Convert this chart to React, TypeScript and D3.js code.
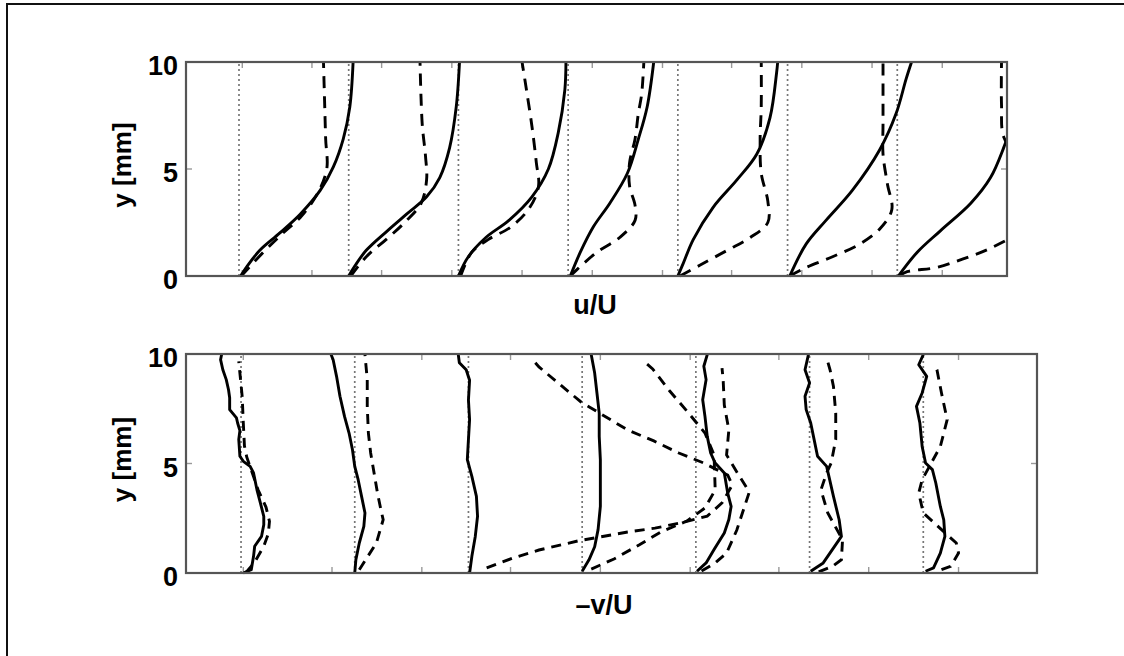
import React from 'react';
import * as d3 from 'd3';

type Pt = [number, number];

// profile stations (offset of each profile on the x axis)
const STATIONS = [0, 1, 2, 3, 4, 5, 6];
const Y_TICKS = [0, 5, 10];
const Y_TICK_LABELS = ['0', '5', '10'];
// unlabeled x ticks, in axis units
const X_TICKS_TOP = [0.03, 0.665, 1.3, 1.94, 2.58, 3.22, 3.86, 4.49, 5.13, 5.77, 6.41];
const X_TICKS_BOTTOM = [0.02, 0.8, 1.59, 2.37, 3.16, 3.95, 4.73, 5.52, 6.31];

// top panel: u/U profiles, [u, y]
const U_SOLID: Pt[][] = [
  [[0.015, 0], [0.08, 0.5], [0.19, 1.2], [0.37, 2.0], [0.56, 2.9], [0.74, 4.0], [0.86, 5.1], [0.95, 6.4], [1.01, 7.9], [1.04, 10]],
  [[0, 0], [0.06, 0.5], [0.16, 1.2], [0.35, 2.1], [0.53, 2.9], [0.71, 3.7], [0.83, 4.6], [0.92, 6.0], [0.98, 7.9], [1.01, 10]],
  [[0, 0], [0.09, 0.9], [0.25, 1.8], [0.46, 2.6], [0.67, 3.7], [0.82, 5.0], [0.91, 6.7], [0.97, 8.7], [0.98, 10]],
  [[0.02, 0], [0.11, 1.1], [0.23, 2.3], [0.38, 3.4], [0.54, 4.8], [0.64, 6.4], [0.72, 7.9], [0.78, 10]],
  [[0, 0], [0.05, 0.6], [0.14, 1.7], [0.32, 3.2], [0.54, 4.5], [0.72, 5.7], [0.84, 7.4], [0.9, 9.5], [0.91, 10]],
  [[0.02, 0], [0.17, 1.5], [0.35, 2.6], [0.59, 4.0], [0.84, 5.9], [0.99, 7.6], [1.08, 9.2], [1.13, 10]],
  [[0.01, 0], [0.18, 1.1], [0.39, 2.1], [0.67, 3.4], [0.85, 4.6], [0.97, 6.0], [1.07, 7.5], [1.13, 9], [1.15, 10]],
];

const U_DASHED: Pt[][] = [
  [[0.02, 0], [0.22, 1.1], [0.4, 2.0], [0.57, 2.8], [0.72, 3.9], [0.8, 5.0], [0.79, 6.4], [0.78, 8.2], [0.77, 10]],
  [[0.02, 0], [0.16, 0.9], [0.34, 1.7], [0.51, 2.5], [0.66, 3.4], [0.71, 4.5], [0.7, 5.6], [0.67, 7.1], [0.65, 10]],
  [[0.02, 0], [0.12, 1.1], [0.27, 1.7], [0.48, 2.3], [0.65, 3.2], [0.73, 4.2], [0.71, 5.3], [0.67, 7.0], [0.62, 8.7], [0.58, 10]],
  [[0.02, 0], [0.08, 0.3], [0.26, 1.1], [0.47, 1.8], [0.61, 2.6], [0.61, 3.3], [0.56, 4.2], [0.56, 5.3], [0.61, 6.4], [0.64, 7.6], [0.67, 8.5], [0.69, 10]],
  [[0.02, 0], [0.2, 0.5], [0.45, 1.2], [0.66, 1.8], [0.82, 2.5], [0.82, 3.5], [0.76, 4.8], [0.75, 6.4], [0.76, 7.9], [0.76, 10]],
  [[0.02, 0], [0.17, 0.4], [0.41, 0.9], [0.66, 1.5], [0.84, 2.2], [0.95, 3.1], [0.91, 4.3], [0.87, 5.7], [0.87, 7.1], [0.87, 10]],
  [[0.02, 0], [0.09, 0.2], [0.36, 0.4], [0.6, 0.8], [0.85, 1.3], [1.15, 2.2], [1.35, 3.5], [1.3, 4.8], [1.1, 5.6], [0.97, 6.5], [0.95, 8], [0.95, 10]],
];

// bottom panel: -v/U profiles, [v, y]
const V_SOLID: Pt[][] = [
  [[0.02, 0], [0.09, 0.15], [0.11, 0.76], [0.12, 1.22], [0.18, 1.67], [0.2, 2.2], [0.2, 2.59], [0.17, 3.2], [0.14, 3.8], [0.11, 4.57], [0.08, 4.87], [0.02, 5.1], [-0.01, 5.33], [-0.02, 6.1], [-0.01, 6.5], [-0.03, 6.85], [-0.04, 7.08], [-0.1, 7.46], [-0.1, 8.0], [-0.11, 8.37], [-0.13, 8.83], [-0.16, 9.28], [-0.18, 9.74], [-0.17, 10]],
  [[0, 0], [0.01, 0.61], [0.04, 1.37], [0.08, 2.13], [0.09, 2.74], [0.06, 3.5], [0.03, 4.26], [0, 4.87], [-0.02, 5.63], [-0.05, 6.39], [-0.09, 7.15], [-0.13, 8.07], [-0.16, 8.98], [-0.19, 9.74], [-0.21, 10]],
  [[0.01, 0], [0.03, 0.76], [0.06, 1.67], [0.08, 2.59], [0.07, 3.5], [0.03, 4.41], [-0.01, 5.18], [0, 6.1], [0.01, 7.0], [0, 7.9], [0.01, 8.8], [-0.02, 9.28], [-0.08, 9.6], [-0.09, 10]],
  [[0, 0.08], [0.06, 0.6], [0.11, 1.2], [0.14, 1.98], [0.16, 3.04], [0.16, 4.11], [0.16, 5.18], [0.15, 6.24], [0.15, 7.3], [0.13, 8.22], [0.11, 9.13], [0.08, 9.97]],
  [[0.01, 0.08], [0.09, 0.46], [0.16, 1.07], [0.25, 1.83], [0.29, 2.44], [0.31, 3.04], [0.28, 3.65], [0.25, 4.57], [0.17, 5.02], [0.13, 5.48], [0.1, 6.24], [0.08, 7.15], [0.06, 7.91], [0.09, 8.83], [0.07, 9.44], [0.1, 9.97]],
  [[0.01, 0.08], [0.12, 0.46], [0.2, 1.07], [0.28, 1.67], [0.26, 2.43], [0.21, 3.5], [0.17, 4.41], [0.15, 4.87], [0.07, 5.33], [0.04, 6.09], [0.01, 6.85], [-0.03, 7.46], [-0.04, 8.07], [0, 8.68], [-0.04, 9.28], [-0.01, 9.97]],
  [[0.02, 0.08], [0.09, 0.23], [0.15, 0.91], [0.19, 1.67], [0.18, 2.43], [0.15, 3.04], [0.11, 4.11], [0.08, 4.72], [0.02, 5.02], [-0.01, 5.78], [-0.03, 6.85], [-0.06, 7.61], [-0.01, 8.22], [0.03, 8.98], [-0.04, 9.51], [0, 9.97]],
];

const V_DASHED: Pt[][] = [
  [[0.04, 0], [0.12, 0.5], [0.2, 1.22], [0.24, 1.8], [0.25, 2.36], [0.22, 3.0], [0.15, 3.8], [0.11, 4.4], [0.05, 5.3], [0.03, 5.8], [0.02, 6.85], [0.01, 8.07], [-0.02, 9.66]],
  [[0.04, 0.15], [0.19, 1.37], [0.25, 2.43], [0.23, 2.89], [0.2, 3.65], [0.17, 4.57], [0.14, 5.48], [0.12, 6.39], [0.11, 7.61], [0.11, 8.83], [0.09, 9.97]],
  [[0.16, 0.23], [0.39, 0.68], [0.62, 1.05], [0.96, 1.46], [1.4, 1.87], [1.64, 2.05], [1.86, 2.28], [2.1, 2.6], [2.23, 3.2], [2.32, 4.02], [2.28, 4.47], [2.07, 5.02], [1.85, 5.48], [1.63, 6.03], [1.4, 6.53], [0.99, 7.81], [0.82, 8.54], [0.62, 9.41], [0.56, 9.77]],
  [[0.08, 0.18], [0.28, 0.64], [0.5, 1.28], [0.69, 1.87], [0.92, 2.37], [1.08, 2.97], [1.17, 3.79], [1.16, 5.39], [1.08, 6.39], [0.92, 7.4], [0.77, 8.31], [0.62, 9.32], [0.57, 9.54]],
  [[0.05, 0.09], [0.17, 0.46], [0.27, 0.91], [0.36, 1.96], [0.47, 3.7], [0.36, 4.61], [0.27, 5.39], [0.29, 6.53], [0.25, 7.67], [0.24, 8.81], [0.23, 9.36]],
  [[0.08, 0.05], [0.2, 0.3], [0.28, 0.61], [0.29, 1.52], [0.16, 2.74], [0.1, 3.8], [0.15, 4.57], [0.19, 5.02], [0.23, 6.09], [0.23, 7.3], [0.21, 8.52], [0.18, 9.28], [0.15, 9.82]],
  [[0.16, 0.15], [0.24, 0.3], [0.31, 0.91], [0.29, 1.37], [0, 2.74], [-0.04, 3.65], [-0.01, 4.26], [0.15, 5.78], [0.21, 7.0], [0.16, 8.22], [0.12, 9.28], [0.1, 9.55]],
];

const FONT = '"Liberation Sans", Arial, Helvetica, sans-serif';

interface PanelProps {
  id: string;
  box: { left: number; right: number; top: number; bottom: number };
  xDomain: [number, number];
  xTicks: number[];
  solid: Pt[][];
  dashed: Pt[][];
  smooth: boolean;
  dash: string;
  label: string;
  labelX: number;
  labelY: number;
}

const Panel = ({ id, box, xDomain, xTicks, solid, dashed, smooth, dash, label, labelX, labelY }: PanelProps) => {
  const x = d3.scaleLinear().domain(xDomain).range([box.left, box.right]);
  const y = d3.scaleLinear().domain([0, 10]).range([box.bottom, box.top]);
  const tickLen = 6;

  const mkLine = (off: number) =>
    d3.line<Pt>()
      .x(d => x(off + d[0]))
      .y(d => y(d[1]))
      .curve(smooth ? d3.curveCatmullRom.alpha(0.5) : d3.curveLinear);

  return (
    <g>
      <defs>
        <clipPath id={`clip-${id}`}>
          <rect x={box.left} y={box.top - 2} width={box.right - box.left} height={box.bottom - box.top + 4} />
        </clipPath>
      </defs>

      {/* zero reference of each profile */}
      {STATIONS.map(s => (
        <line key={`ref${s}`} x1={x(s)} x2={x(s)} y1={y(0)} y2={y(10)}
          stroke="#777" strokeWidth={1.7} strokeDasharray="2,3" />
      ))}

      {/* ticks */}
      {xTicks.map((t, i) => (
        <g key={`xt${i}`} stroke="#999" strokeWidth={1.4}>
          <line x1={x(t)} x2={x(t)} y1={box.bottom} y2={box.bottom - tickLen} />
          <line x1={x(t)} x2={x(t)} y1={box.top} y2={box.top + tickLen} />
        </g>
      ))}
      {Y_TICKS.map((t, i) => (
        <g key={`yt${i}`} stroke="#999" strokeWidth={1.4}>
          <line x1={box.left} x2={box.left + tickLen} y1={y(t)} y2={y(t)} />
          <line x1={box.right} x2={box.right - tickLen} y1={y(t)} y2={y(t)} />
        </g>
      ))}

      <g clipPath={`url(#clip-${id})`} fill="none" stroke="#000" strokeWidth={2.9}>
        {solid.map((pts, i) => (
          <path key={`s${i}`} d={mkLine(STATIONS[i])(pts) || ''} strokeLinejoin="round" />
        ))}
        {dashed.map((pts, i) => (
          <path key={`d${i}`} d={mkLine(STATIONS[i])(pts) || ''} strokeDasharray={dash} />
        ))}
      </g>

      <rect x={box.left} y={box.top} width={box.right - box.left} height={box.bottom - box.top}
        fill="none" stroke="#555" strokeWidth={2.2} />

      {Y_TICK_LABELS.map((lab, i) => (
        <text key={`yl${i}`} x={box.left - 8} y={y(Y_TICKS[i]) + 4} textAnchor="end" dominantBaseline="central"
          fontFamily={FONT} fontWeight="bold" fontSize={27} fill="#000">
          {lab}
        </text>
      ))}

      <text transform={`translate(122,${(box.top + box.bottom) / 2 - 4}) rotate(-90)`}
        textAnchor="middle" dominantBaseline="central"
        fontFamily={FONT} fontWeight="bold" fontSize={26} fill="#000">
        y [mm]
      </text>

      <text x={labelX} y={labelY} textAnchor="middle"
        fontFamily={FONT} fontWeight="bold" fontSize={27} fill="#000">
        {label}
      </text>
    </g>
  );
};

export default function App() {
  return (
    <svg width={1124} height={656} style={{ position: 'absolute', left: 0, top: 0, background: '#fff' }}>
      <rect x={0} y={0} width={1124} height={656} fill="#fff" />
      <rect x={7} y={4} width={1200} height={800} fill="none" stroke="#111" strokeWidth={2} />
      <Panel id="top" box={{ left: 186, right: 1007, top: 62, bottom: 276 }}
        xDomain={[-0.483, 7.0]} xTicks={X_TICKS_TOP}
        solid={U_SOLID} dashed={U_DASHED} smooth={true} dash="12,8"
        label="u/U" labelX={595} labelY={314} />
      <Panel id="bot" box={{ left: 186, right: 1037, top: 354, bottom: 573 }}
        xDomain={[-0.484, 7.0]} xTicks={X_TICKS_BOTTOM}
        solid={V_SOLID} dashed={V_DASHED} smooth={false} dash="10,7"
        label="–v/U" labelX={604} labelY={614} />
    </svg>
  );
}
